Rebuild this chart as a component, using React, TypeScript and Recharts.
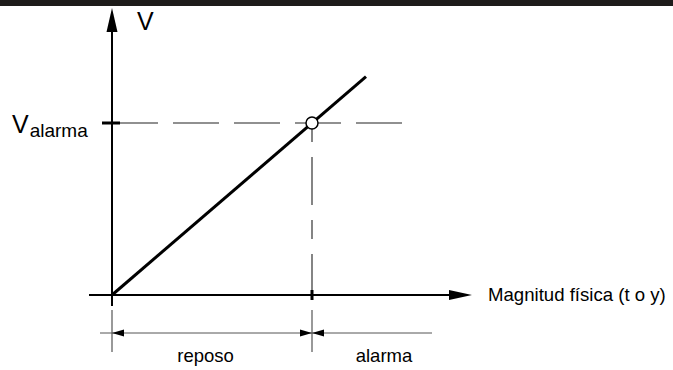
import React from 'react';
import { ComposedChart, XAxis, YAxis, Line, ReferenceLine, ReferenceDot } from 'recharts';

const FONT = '"Liberation Sans", Arial, Helvetica, sans-serif';

// Sensor characteristic: output V grows linearly with the physical magnitude
const rampX = [0, 12.7];
const rampV = [0, 10.92];

// Alarm threshold and the magnitude at which the output reaches it
const alarmX = [10];
const vAlarma = [8.6];

// Texts
const axisTitles = ['V', 'Magnitud física (t o y)'];
const thresholdLabel = ['V', 'alarma'];
const spanLabels = ['reposo', 'alarma'];

const rampData = rampX.map((x, i) => ({ x, v: rampV[i] }));

// ---- layout (chart units: 1 unit = 20 px, origin of the diagram at 0,0) ----
const W = 673;
const H = 370;
const X_DOMAIN: [number, number] = [-5.6, 28.05];
const Y_DOMAIN: [number, number] = [-3.75, 14.75];
const X_AXIS = [-1.15, 18];
const Y_AXIS = [-0.55, 14.35];
const THRESHOLD_END = 14.55;
const DIM_Y = -1.9;
const DIM_LINE = [-0.6, 16];
const EXT_LINE = [-0.75, -2.85];
const HEAD = 0.6;

const ax = alarmX[0];
const va = vAlarma[0];

type Seg = { x1: number; y1: number; x2: number; y2: number };

// Line with a filled arrowhead at its end point
const arrowLine = (len: number, half: number) => (p: any) => {
  const { x1, y1, x2, y2 } = p as Seg;
  const dx = x2 - x1;
  const dy = y2 - y1;
  const L = Math.hypot(dx, dy) || 1;
  const ux = dx / L;
  const uy = dy / L;
  const bx = x2 - ux * len;
  const by = y2 - uy * len;
  const nx = -uy * half;
  const ny = ux * half;
  return (
    <g>
      <line x1={x1} y1={y1} x2={bx + ux * 2} y2={by + uy * 2} stroke={p.stroke} strokeWidth={p.strokeWidth} />
      <polygon points={`${x2},${y2} ${bx + nx},${by + ny} ${bx - nx},${by - ny}`} fill={p.stroke} />
    </g>
  );
};

// Arrowhead only: base at the first point, tip at the second
const headOnly = (half: number) => (p: any) => {
  const { x1, y1, x2, y2 } = p as Seg;
  const dx = x2 - x1;
  const dy = y2 - y1;
  const L = Math.hypot(dx, dy) || 1;
  const nx = (-dy / L) * half;
  const ny = (dx / L) * half;
  return <polygon points={`${x2},${y2} ${x1 + nx},${y1 + ny} ${x1 - nx},${y1 - ny}`} fill="#000" />;
};

const textAt = (content: React.ReactNode, size: number, anchor: 'start' | 'middle' = 'start') => (p: any) => (
  <text x={p.cx} y={p.cy} fontFamily={FONT} fontSize={size} fill="#000" textAnchor={anchor}>
    {content}
  </text>
);

const subLabel = (p: any) => (
  <text x={p.cx} y={p.cy} fontFamily={FONT} fill="#000">
    <tspan fontSize={25}>{thresholdLabel[0]}</tspan>
    <tspan fontSize={19} dx={1} dy={4}>{thresholdLabel[1]}</tspan>
  </text>
);

export default function App() {
  return (
    <div style={{ position: 'absolute', left: 0, top: 0, width: W, height: H, background: '#fff' }}>
      <div style={{ position: 'absolute', left: 0, top: 0, width: W, height: 6, background: '#1e1c1a' }} />
      <ComposedChart
        width={W}
        height={H}
        data={rampData}
        margin={{ top: 0, right: 0, bottom: 0, left: 0 }}
      >
        <XAxis type="number" dataKey="x" domain={X_DOMAIN} allowDataOverflow hide />
        <YAxis type="number" domain={Y_DOMAIN} allowDataOverflow hide />

        {/* threshold guides */}
        <ReferenceLine
          segment={[{ x: 0, y: va }, { x: THRESHOLD_END, y: va }]}
          stroke="#222"
          strokeWidth={1.1}
          strokeDasharray="46 15"
        />
        <ReferenceLine
          segment={[{ x: ax, y: va }, { x: ax, y: 0 }]}
          stroke="#222"
          strokeWidth={1.1}
          strokeDasharray="19 15 48 15"
        />

        {/* axes */}
        <ReferenceLine
          segment={[{ x: X_AXIS[0], y: 0 }, { x: X_AXIS[1], y: 0 }]}
          stroke="#000"
          strokeWidth={2}
          shape={arrowLine(23, 5)}
        />
        <ReferenceLine
          segment={[{ x: 0, y: Y_AXIS[0] }, { x: 0, y: Y_AXIS[1] }]}
          stroke="#000"
          strokeWidth={2}
          shape={arrowLine(24, 5.5)}
        />

        {/* ticks at the alarm point */}
        <ReferenceLine segment={[{ x: -0.5, y: va }, { x: 0.4, y: va }]} stroke="#000" strokeWidth={3} />
        <ReferenceLine segment={[{ x: ax, y: 0.25 }, { x: ax, y: -0.25 }]} stroke="#000" strokeWidth={3} />

        {/* dimension row */}
        <ReferenceLine segment={[{ x: 0, y: EXT_LINE[0] }, { x: 0, y: EXT_LINE[1] }]} stroke="#777" strokeWidth={1.5} />
        <ReferenceLine segment={[{ x: ax, y: EXT_LINE[0] }, { x: ax, y: EXT_LINE[1] }]} stroke="#777" strokeWidth={1.5} />
        <ReferenceLine segment={[{ x: DIM_LINE[0], y: DIM_Y }, { x: DIM_LINE[1], y: DIM_Y }]} stroke="#555" strokeWidth={1} />
        <ReferenceLine segment={[{ x: HEAD, y: DIM_Y }, { x: 0, y: DIM_Y }]} shape={headOnly(3.5)} />
        <ReferenceLine segment={[{ x: ax - HEAD, y: DIM_Y }, { x: ax, y: DIM_Y }]} shape={headOnly(3.5)} />
        <ReferenceLine segment={[{ x: ax + HEAD, y: DIM_Y }, { x: ax, y: DIM_Y }]} shape={headOnly(3.5)} />

        <Line
          dataKey="v"
          type="linear"
          stroke="#000"
          strokeWidth={3}
          dot={false}
          activeDot={false}
          isAnimationActive={false}
        />

        <ReferenceDot x={ax} y={va} r={6} fill="#fff" stroke="#000" strokeWidth={1.5} />

        {/* labels */}
        <ReferenceDot x={1.25} y={13.25} r={0} shape={textAt(axisTitles[0], 25)} />
        <ReferenceDot x={18.8} y={-0.32} r={0} shape={textAt(axisTitles[1], 18.6)} />
        <ReferenceDot x={-5} y={8.1} r={0} shape={subLabel} />
        <ReferenceDot x={4.68} y={-3.35} r={0} shape={textAt(spanLabels[0], 18.5, 'middle')} />
        <ReferenceDot x={13.6} y={-3.35} r={0} shape={textAt(spanLabels[1], 18.5, 'middle')} />
      </ComposedChart>
    </div>
  );
}
